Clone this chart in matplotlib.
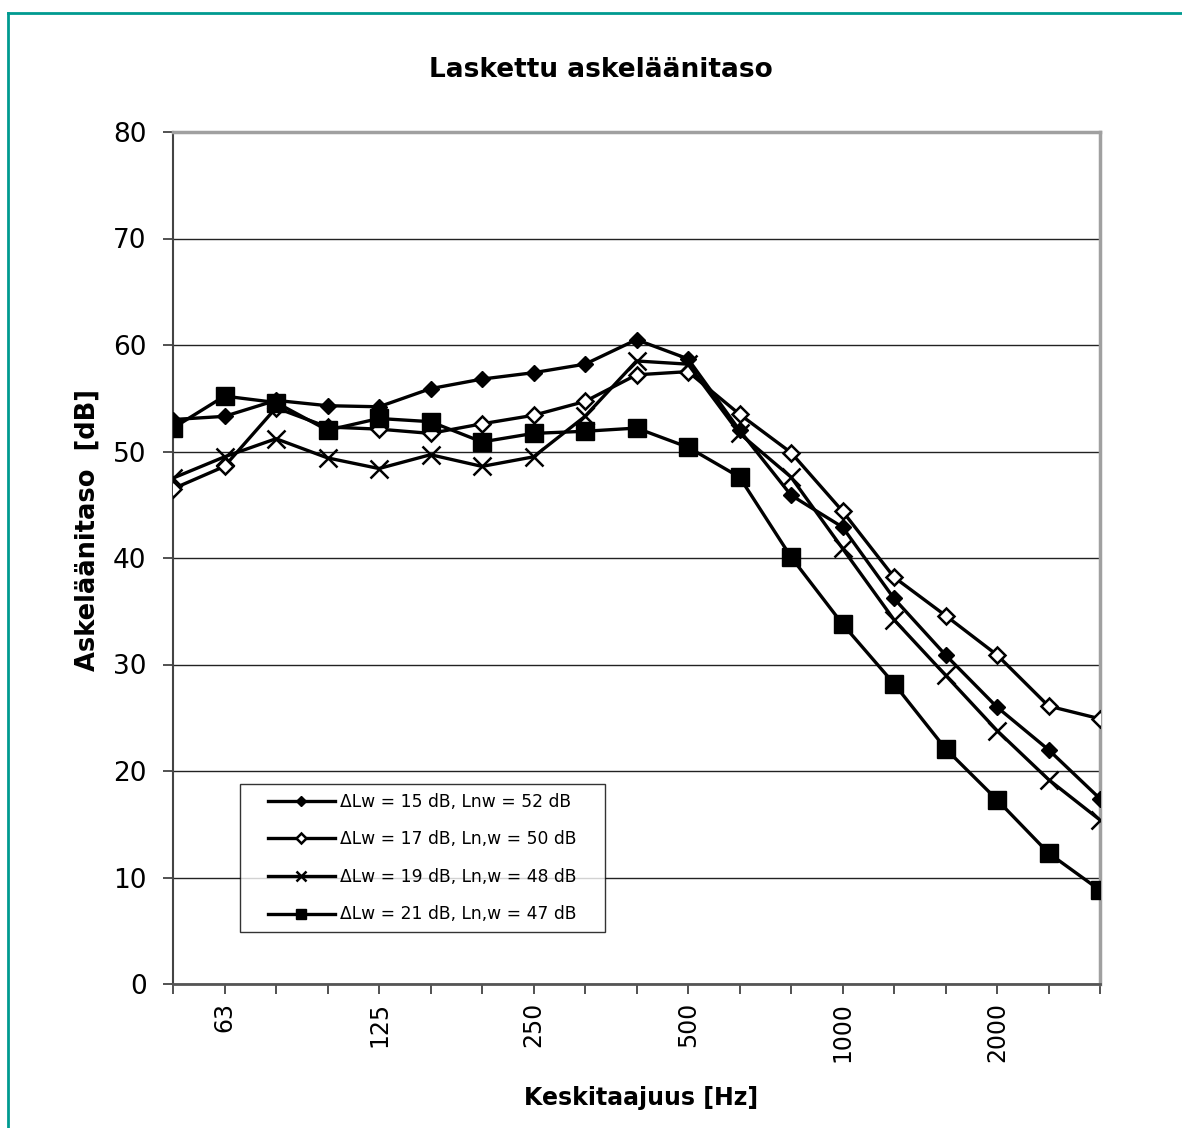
import matplotlib
matplotlib.use("Agg")
import matplotlib.pyplot as plt
from matplotlib.lines import Line2D
from matplotlib.legend_handler import HandlerLine2D

freqs = ["50", "63", "80", "100", "125", "160", "200", "250", "315", "400",
         "500", "630", "800", "1000", "1250", "1600", "2000", "2500", "3150"]
shown_labels = ["63", "125", "250", "500", "1000", "2000"]

s15 = [53.0, 53.3, 54.8, 54.3, 54.2, 55.9, 56.8, 57.4, 58.2, 60.5,
       58.7, 52.0, 45.9, 42.9, 36.2, 30.9, 26.0, 22.0, 17.4]
s17 = [46.5, 48.6, 54.1, 52.3, 52.1, 51.7, 52.6, 53.4, 54.7, 57.2,
       57.5, 53.5, 49.9, 44.4, 38.2, 34.6, 30.9, 26.1, 24.9]
s19 = [47.5, 49.5, 51.2, 49.4, 48.4, 49.7, 48.6, 49.5, 53.3, 58.5,
       58.2, 51.7, 47.6, 40.9, 34.2, 29.0, 23.8, 19.2, 15.4]
s21 = [52.2, 55.2, 54.6, 52.0, 53.1, 52.8, 50.9, 51.7, 51.9, 52.2,
       50.4, 47.6, 40.1, 33.8, 28.2, 22.1, 17.3, 12.3, 8.8]

labels = ["ΔLw = 15 dB, Lnw = 52 dB",
          "ΔLw = 17 dB, Ln,w = 50 dB",
          "ΔLw = 19 dB, Ln,w = 48 dB",
          "ΔLw = 21 dB, Ln,w = 47 dB"]

W, H = 1182, 1128
fig = plt.figure(figsize=(W / 100, H / 100), dpi=100)
ax = fig.add_axes([173 / W, 1 - 984 / H, (1100 - 173) / W, (984 - 132) / H])

x = list(range(len(freqs)))
ax.plot(x, s15, color="black", lw=2.4, marker="D", ms=8.5,
        mfc="black", mec="black", label=labels[0], zorder=3)
ax.plot(x, s17, color="black", lw=2.4, marker="D", ms=8.5,
        mfc="white", mec="black", mew=1.8, label=labels[1], zorder=3)
ax.plot(x, s19, color="black", lw=2.4, marker="x", ms=13,
        mew=1.8, mec="black", label=labels[2], zorder=3)
ax.plot(x, s21, color="black", lw=2.4, marker="s", ms=13,
        mfc="black", mec="black", label=labels[3], zorder=3)

ax.set_xlim(0, len(freqs) - 1)
ax.set_ylim(0, 80)
ax.set_yticks(range(0, 81, 10))
ax.yaxis.grid(True, color="#222222", lw=1.0)
ax.set_axisbelow(True)
ax.set_xticks(x)
ax.set_xticklabels([f if f in shown_labels else "" for f in freqs],
                   rotation=90, fontsize=17)
ax.tick_params(axis="x", direction="out", length=7, width=1.2,
               color="#333333", pad=6)
ax.tick_params(axis="y", direction="out", length=7, width=1.2,
               color="#333333", labelsize=19, pad=12)

for side in ["top", "right"]:
    ax.spines[side].set_color("#a0a0a0")
    ax.spines[side].set_linewidth(2.5)
ax.spines["left"].set_color("#444444")
ax.spines["left"].set_linewidth(1.5)
ax.spines["bottom"].set_color("#555555")
ax.spines["bottom"].set_linewidth(2.0)

fs_leg = 12.3
leg = ax.legend(loc="lower left",
                bbox_to_anchor=(0.072, 0.061, (605 - 240) / 927, 0.17),
                mode="expand",
                fontsize=fs_leg, markerscale=0.6, handlelength=5.06,
                frameon=True, fancybox=False, edgecolor="black",
                borderpad=0.5, labelspacing=1.15, handletextpad=0.3,
                borderaxespad=0,
                handler_map={Line2D: HandlerLine2D(xpad=1.14)})
leg.get_frame().set_linewidth(1.0)
leg.set_zorder(5)

fig.text(601 / W, 1 - 70 / H, "Laskettu askeläänitaso", ha="center",
         va="center", fontsize=19, fontweight="bold")
fig.text(88 / W, 1 - 530 / H, "Askeläänitaso  [dB]", ha="center",
         va="center", rotation=90, fontsize=18.5, fontweight="bold")
fig.text(641 / W, 1 - 1098 / H, "Keskitaajuus [Hz]", ha="center",
         va="center", fontsize=17, fontweight="bold")

teal = "#009a90"
fig.add_artist(Line2D([8 / W, 8 / W], [0, 1 - 13 / H], color=teal, lw=2,
                      transform=fig.transFigure))
fig.add_artist(Line2D([8 / W, 1], [1 - 13 / H, 1 - 13 / H], color=teal, lw=2,
                      transform=fig.transFigure))

fig.savefig("out.png", dpi=100)
